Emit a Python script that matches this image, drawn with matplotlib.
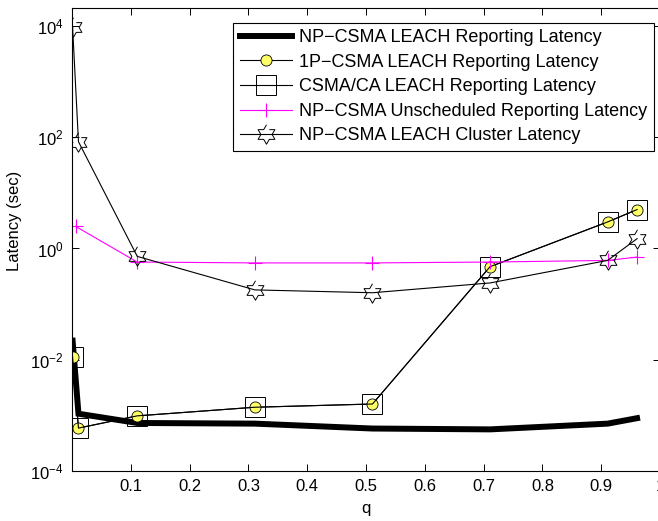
import matplotlib.pyplot as plt
import numpy as np

plt.rcParams['font.family'] = ['Liberation Sans', 'DejaVu Sans']
plt.rcParams['mathtext.fontset'] = 'custom'
plt.rcParams['mathtext.rm'] = 'Liberation Sans'
plt.rcParams['mathtext.it'] = 'Liberation Sans:italic'

# probability q for each run
q = [0.001, 0.011, 0.111, 0.311, 0.511, 0.711, 0.911, 0.961]
q_unsched = [0.006, 0.111, 0.311, 0.511, 0.711, 0.911, 0.961]

# latencies in seconds
np_csma_leach = [0.022, 1.07e-3, 7.3e-4, 7.1e-4, 5.8e-4, 5.6e-4, 7.1e-4, 8.9e-4]
p1_csma_leach = [0.0112, 5.9e-4, 9.8e-4, 1.4e-3, 1.6e-3, 0.47, 3.0, 5.0]
csma_ca_leach = [0.0112, 5.9e-4, 9.8e-4, 1.4e-3, 1.6e-3, 0.47, 3.0, 5.0]
np_csma_unsched = [2.5, 0.57, 0.55, 0.55, 0.57, 0.61, 0.70]
np_csma_cluster = [9500, 83, 0.72, 0.18, 0.16, 0.24, 0.61, 1.5]

labels = ['NP\u2212CSMA LEACH Reporting Latency',
          '1P\u2212CSMA LEACH Reporting Latency',
          'CSMA/CA LEACH Reporting Latency',
          'NP\u2212CSMA Unscheduled Reporting Latency',
          'NP\u2212CSMA LEACH Cluster Latency']

# six-pointed star outline (like MATLAB's hexagram)
ang = np.deg2rad(90 + 30 * np.arange(12))
rad = np.where(np.arange(12) % 2 == 0, 1.0, 1 / np.sqrt(3))
hexagram = list(zip(rad * np.cos(ang), rad * np.sin(ang)))

fig = plt.figure(figsize=(6.58, 5.21), dpi=100)
ax = fig.add_axes([72 / 658, 1 - 471 / 521, 588 / 658, 463 / 521])

ax.plot(q, np_csma_leach, color='black', lw=4.3, label=labels[0],
        solid_joinstyle='miter')
ax.plot(q, p1_csma_leach, color='black', lw=0.8, marker='o', ms=8,
        mfc='#ffff66', mec='black', mew=0.6, label=labels[1])
ax.plot(q, csma_ca_leach, color='black', lw=0.8, marker='s', ms=15,
        mfc='none', mec='black', mew=0.7, label=labels[2])
ax.plot(q_unsched, np_csma_unsched, color='magenta', lw=0.8, marker='+',
        ms=10, mew=0.8, label=labels[3])
ax.plot(q, np_csma_cluster, color='black', lw=0.8, marker=hexagram, ms=14,
        mfc='none', mec='black', mew=0.7, label=labels[4])

ax.set_yscale('log')
ax.set_xlim(0, 1.0)
ax.set_ylim(1e-4, 2.1e4)
ax.set_xticks(np.arange(0.1, 1.01, 0.1))
ax.set_xticklabels(['0.1', '0.2', '0.3', '0.4', '0.5', '0.6', '0.7', '0.8', '0.9', '1'])
ax.set_yticks([1e-4, 1e-2, 1e0, 1e2, 1e4])
ax.yaxis.set_minor_locator(plt.NullLocator())
ax.tick_params(direction='in', top=True, right=True, length=5, width=0.7,
               labelsize=12, pad=6)
for s in ax.spines.values():
    s.set_linewidth(0.8)

ax.set_xlabel('q', fontsize=12, labelpad=5)
ax.set_ylabel('Latency (sec)', fontsize=12, labelpad=4)
ax.yaxis.set_label_coords(-0.085, 0.54)

leg = ax.legend(loc='upper right', bbox_to_anchor=(0.9895, 0.968), fontsize=13,
                fancybox=False, edgecolor='black', framealpha=1,
                labelspacing=0.42, handlelength=2.9, handletextpad=0.4,
                borderpad=0.35, borderaxespad=0)
leg.get_frame().set_linewidth(0.8)

fig.savefig('out.png', dpi=100)
